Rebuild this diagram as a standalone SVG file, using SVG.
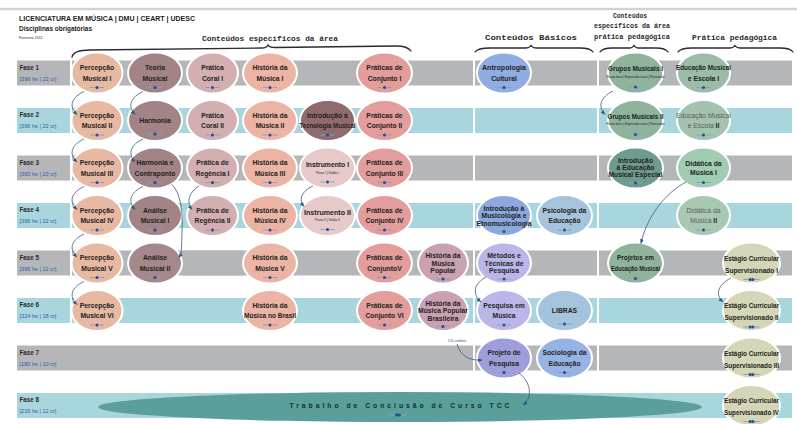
<svg xmlns="http://www.w3.org/2000/svg" xmlns:xlink="http://www.w3.org/1999/xlink" width="797" height="424" viewBox="0 0 797 424">
<defs>
<style>
.t{font-family:"Liberation Sans",Arial,sans-serif;font-size:6.8px;font-weight:bold;fill:#231f20;text-anchor:middle}
.tg{font-family:"Liberation Sans",Arial,sans-serif;font-size:6.8px;fill:#5b5b5b;text-anchor:middle}
.sub{font-family:"Liberation Sans",Arial,sans-serif;font-size:3.2px;fill:#231f20;text-anchor:middle}
.hd{font-family:"Liberation Mono","Courier New",monospace;font-size:8px;font-weight:bold;fill:#2a2a2a;text-anchor:middle}
.fs{font-family:"Liberation Sans",Arial,sans-serif;font-size:6.3px;font-weight:bold;fill:#2b2b2b}
.hs{font-family:"Liberation Sans",Arial,sans-serif;font-size:5.6px;fill:#2f5da8}
.G{fill:#b4b6b8}
.C{fill:#a9d6dd}
ellipse{stroke:#fff;stroke-width:2}
.pe{fill:#e8b9a2}.te{fill:#a28487}.co{fill:#d4afb2}.hi{fill:#ebb4a4}.tm{fill:#8f6b6f}
.in{fill:#e7c9ca}.pc{fill:#e39d9b}.hp{fill:#c9a1b3}.bl{fill:#8fade2}.lb{fill:#a5c3dd}
.lv{fill:#bbb6e9}.pp{fill:#9f9dda}.gr{fill:#8fb39c}.ge{fill:#6e9b8f}.em{fill:#9bbca8}
.di{fill:#a0cdb2}.es{fill:#d4d6b7}.tcc{fill:#5b9f9b;stroke:none}
.brace{fill:none;stroke:#2b2b2b;stroke-width:1.3;stroke-linecap:round}
.cn{fill:none;stroke:#3e5a78;stroke-width:0.8}
</style>
<marker id="ah" viewBox="0 0 10 10" refX="9" refY="5" markerWidth="6" markerHeight="6" orient="auto">
<path d="M0,1 L10,5 L0,9 z" fill="#2c5a8c"/>
</marker>
<g id="cr">
<rect x="-7" y="-0.5" width="4.5" height="1" fill="#8e9dba"/>
<circle cx="0" cy="0" r="1.6" fill="#1f4f99"/>
<rect x="2.5" y="-0.5" width="4.5" height="1" fill="#8e9dba"/>
</g>
<g id="cr2">
<rect x="-8" y="-0.5" width="4.5" height="1" fill="#8e9dba"/>
<circle cx="-1.4" cy="0" r="1.6" fill="#1f4f99"/>
<circle cx="1.4" cy="0" r="1.6" fill="#1f4f99"/>
<rect x="3.5" y="-0.5" width="4.5" height="1" fill="#8e9dba"/>
</g>
</defs>

<rect width="797" height="424" fill="#fff"/>
<line x1="0" y1="9" x2="797" y2="9" stroke="#d2d2d2" stroke-width="2.5"/>

<!-- title block -->
<text x="19" y="21" font-family="Liberation Sans,Arial,sans-serif" font-size="8" font-weight="bold" fill="#231f20" textLength="176" lengthAdjust="spacingAndGlyphs">LICENCIATURA EM MÚSICA | DMU | CEART | UDESC</text>
<text x="19" y="31" font-family="Liberation Sans,Arial,sans-serif" font-size="7" font-weight="bold" fill="#231f20" textLength="73" lengthAdjust="spacingAndGlyphs">Disciplinas obrigatórias</text>
<text x="19" y="38.5" font-family="Liberation Sans,Arial,sans-serif" font-size="3.5" fill="#231f20">Fevereiro 2012</text>

<!-- area headings and braces -->
<g id="headings">
<text class="hd" x="270" y="41" textLength="136" lengthAdjust="spacingAndGlyphs">Conteúdos específicos da área</text>
<text class="hd" x="531" y="40" textLength="92" lengthAdjust="spacingAndGlyphs">Conteúdos Básicos</text>
<text class="hd" x="630" y="18" textLength="34" lengthAdjust="spacingAndGlyphs">Conteúdos</text>
<text class="hd" x="632" y="28" textLength="76" lengthAdjust="spacingAndGlyphs">específicos da área</text>
<text class="hd" x="632" y="38.5" textLength="76" lengthAdjust="spacingAndGlyphs">prática pedagógica</text>
<text class="hd" x="734.5" y="40" textLength="85" lengthAdjust="spacingAndGlyphs">Prática pedagógica</text>
<path class="brace" d="M72,57 C73,52 78,50 90,50 L262,48 C266,48 267,47 268,45 C269,47 271,47.5 275,47.5 L396,46 C404,46 409,48 411,51"/>
<path class="brace" d="M475,52 C477,49 481,48 490,48 L526,48 C529,48 530,47 531,45.5 C532,47 533,48 536,48 L580,48 C587,48 591,49 593,52"/>
<path class="brace" d="M600,52 C602,49 605,48 612,48 L630,48 C632,48 633,47 634,45.5 C635,47 636,48 638,48 L656,48 C663,48 666,49 668,52"/>
<path class="brace" d="M678,52 C680,49 684,48 692,48 L730,48 C733,48 734,47 735,45.5 C736,47 737,48 740,48 L780,48 C787,48 791,49 793,52"/>
</g>

<!-- phase rows -->
<g id="fase-1">
<rect class="G" x="17" y="60.5" width="53" height="25"/>
<rect class="G" x="72" y="60.5" width="401" height="25"/>
<rect class="G" x="475" y="60.5" width="122" height="25"/>
<rect class="G" x="599" y="60.5" width="193" height="25"/>
<text class="fs" x="19.5" y="69.5">Fase 1</text>
<text class="hs" x="19.5" y="80.5">[396 hs | 22 cr]</text>
</g>
<g id="fase-2">
<rect class="C" x="17" y="108" width="53" height="25"/>
<rect class="C" x="72" y="108" width="401" height="25"/>
<rect class="C" x="475" y="108" width="122" height="25"/>
<rect class="C" x="599" y="108" width="193" height="25"/>
<text class="fs" x="19.5" y="117">Fase 2</text>
<text class="hs" x="19.5" y="128">[396 hs | 22 cr]</text>
</g>
<g id="fase-3">
<rect class="G" x="17" y="155.5" width="53" height="25"/>
<rect class="G" x="72" y="155.5" width="401" height="25"/>
<rect class="G" x="475" y="155.5" width="122" height="25"/>
<rect class="G" x="599" y="155.5" width="193" height="25"/>
<text class="fs" x="19.5" y="164.5">Fase 3</text>
<text class="hs" x="19.5" y="175.5">[360 hs | 20 cr]</text>
</g>
<g id="fase-4">
<rect class="C" x="17" y="203" width="53" height="25"/>
<rect class="C" x="72" y="203" width="401" height="25"/>
<rect class="C" x="475" y="203" width="122" height="25"/>
<rect class="C" x="599" y="203" width="193" height="25"/>
<text class="fs" x="19.5" y="212">Fase 4</text>
<text class="hs" x="19.5" y="223">[396 hs | 22 cr]</text>
</g>
<g id="fase-5">
<rect class="G" x="17" y="250.5" width="53" height="25"/>
<rect class="G" x="72" y="250.5" width="401" height="25"/>
<rect class="G" x="475" y="250.5" width="122" height="25"/>
<rect class="G" x="599" y="250.5" width="193" height="25"/>
<text class="fs" x="19.5" y="259.5">Fase 5</text>
<text class="hs" x="19.5" y="270.5">[396 hs | 22 cr]</text>
</g>
<g id="fase-6">
<rect class="C" x="17" y="298" width="53" height="25"/>
<rect class="C" x="72" y="298" width="401" height="25"/>
<rect class="C" x="475" y="298" width="122" height="25"/>
<rect class="C" x="599" y="298" width="193" height="25"/>
<text class="fs" x="19.5" y="307">Fase 6</text>
<text class="hs" x="19.5" y="318">[324 hs | 18 cr]</text>
</g>
<g id="fase-7">
<rect class="G" x="17" y="345.5" width="456" height="25"/>
<rect class="G" x="475" y="345.5" width="122" height="25"/>
<rect class="G" x="599" y="345.5" width="193" height="25"/>
<text class="fs" x="19.5" y="354.5">Fase 7</text>
<text class="hs" x="19.5" y="365.5">[180 hs | 10 cr]</text>
</g>
<g id="fase-8">
<rect class="C" x="17" y="393" width="775" height="25"/>
<text class="fs" x="19.5" y="402">Fase 8</text>
<text class="hs" x="19.5" y="413">[216 hs | 12 cr]</text>
</g>

<!-- Fase 1 -->
<g id="percepcao-1"><ellipse class="pe" cx="97" cy="73" rx="25.5" ry="20.5"/><text class="t" x="97" y="70">Percepção</text><text class="t" x="97" y="80.5">Musical I</text><use href="#cr" x="97" y="87.5"/></g>
<g id="teoria"><ellipse class="te" cx="155" cy="73" rx="27" ry="20.5"/><text class="t" x="155" y="70">Teoria</text><text class="t" x="155" y="80.5">Musical</text><use href="#cr" x="155" y="87.5"/></g>
<g id="coral-1"><ellipse class="co" cx="212.5" cy="73" rx="25.5" ry="20.5"/><text class="t" x="212.5" y="70">Prática</text><text class="t" x="212.5" y="80.5">Coral I</text><use href="#cr" x="212.5" y="87.5"/></g>
<g id="historia-1"><ellipse class="hi" cx="270" cy="73" rx="27" ry="20.5"/><text class="t" x="270" y="70">História da</text><text class="t" x="270" y="80.5">Música I</text><use href="#cr" x="270" y="87.5"/></g>
<g id="conjunto-1"><ellipse class="pc" cx="384.5" cy="73" rx="27.5" ry="20.5"/><text class="t" x="384.5" y="70">Práticas de</text><text class="t" x="384.5" y="80.5">Conjunto I</text><use href="#cr" x="384.5" y="87.5"/></g>
<g id="antropologia"><ellipse class="bl" cx="504" cy="73" rx="27" ry="20.5"/><text class="t" x="504" y="70" textLength="44" lengthAdjust="spacingAndGlyphs">Antropologia</text><text class="t" x="504" y="80.5">Cultural</text><use href="#cr" x="504" y="87.5"/></g>
<g id="grupos-1"><ellipse class="gr" cx="635.5" cy="73" rx="27.5" ry="20.5"/><text class="t" x="635.5" y="71" textLength="55" lengthAdjust="spacingAndGlyphs">Grupos Musicais I</text><text class="sub" x="635.5" y="77.5" textLength="58" lengthAdjust="spacingAndGlyphs">Flauta doce | Expressão vocal | Percussão</text><use href="#cr" x="635.5" y="87"/></g>
<g id="escola-1"><ellipse class="em" cx="703.5" cy="73" rx="26.5" ry="20.5"/><text class="t" x="703.5" y="70" textLength="55" lengthAdjust="spacingAndGlyphs">Educação Musical</text><text class="t" x="703.5" y="80.5">e Escola I</text><use href="#cr" x="703.5" y="87.5"/></g>

<!-- Fase 2 -->
<g id="percepcao-2"><ellipse class="pe" cx="97" cy="120.5" rx="25.5" ry="20.5"/><text class="t" x="97" y="117.5">Percepção</text><text class="t" x="97" y="128">Musical II</text><use href="#cr" x="97" y="135"/></g>
<g id="harmonia"><ellipse class="te" cx="155" cy="120.5" rx="27" ry="20.5"/><text class="t" x="155" y="123">Harmonia</text><use href="#cr" x="155" y="134"/></g>
<g id="coral-2"><ellipse class="co" cx="212.5" cy="120.5" rx="25.5" ry="20.5"/><text class="t" x="212.5" y="117.5">Prática</text><text class="t" x="212.5" y="128">Coral II</text><use href="#cr" x="212.5" y="135"/></g>
<g id="historia-2"><ellipse class="hi" cx="270" cy="120.5" rx="27" ry="20.5"/><text class="t" x="270" y="117.5">História da</text><text class="t" x="270" y="128">Música II</text><use href="#cr" x="270" y="135"/></g>
<g id="tecnologia"><ellipse class="tm" cx="327.5" cy="120.5" rx="27.5" ry="20.5"/><text class="t" x="327.5" y="117.5">Introdução à</text><text class="t" x="327.5" y="128" textLength="56" lengthAdjust="spacingAndGlyphs">Tecnologia Musical</text><use href="#cr" x="327.5" y="135"/></g>
<g id="conjunto-2"><ellipse class="pc" cx="384.5" cy="120.5" rx="27.5" ry="20.5"/><text class="t" x="384.5" y="117.5">Práticas de</text><text class="t" x="384.5" y="128">Conjunto II</text><use href="#cr" x="384.5" y="135"/></g>
<g id="grupos-2"><ellipse class="gr" cx="635.5" cy="120.5" rx="27.5" ry="20.5"/><text class="t" x="635.5" y="118.5" textLength="56" lengthAdjust="spacingAndGlyphs">Grupos Musicais II</text><text class="sub" x="635.5" y="125" textLength="58" lengthAdjust="spacingAndGlyphs">Flauta doce | Expressão vocal | Percussão</text><use href="#cr" x="635.5" y="134.5"/></g>
<g id="escola-2"><ellipse class="em" cx="703.5" cy="120.5" rx="26.5" ry="20.5" style="fill:#a4c2b0"/><text class="tg" x="703.5" y="117.5" textLength="55" lengthAdjust="spacingAndGlyphs">Educação Musical</text><text class="tg" x="703.5" y="128">e Escola <tspan font-weight="bold" fill="#231f20">II</tspan></text><use href="#cr" x="703.5" y="135"/></g>

<!-- Fase 3 -->
<g id="percepcao-3"><ellipse class="pe" cx="97" cy="168" rx="25.5" ry="20.5"/><text class="t" x="97" y="165">Percepção</text><text class="t" x="97" y="175.5">Musical III</text><use href="#cr" x="97" y="182.5"/></g>
<g id="contraponto"><ellipse class="te" cx="155" cy="168" rx="27" ry="20.5"/><text class="t" x="155" y="165">Harmonia e</text><text class="t" x="155" y="175.5">Contraponto</text><use href="#cr" x="155" y="182.5"/></g>
<g id="regencia-1"><ellipse class="co" cx="212.5" cy="168" rx="25.5" ry="20.5"/><text class="t" x="212.5" y="165">Prática de</text><text class="t" x="212.5" y="175.5">Regência I</text><use href="#cr" x="212.5" y="182.5"/></g>
<g id="historia-3"><ellipse class="hi" cx="270" cy="168" rx="27" ry="20.5"/><text class="t" x="270" y="165">História da</text><text class="t" x="270" y="175.5">Música III</text><use href="#cr" x="270" y="182.5"/></g>
<g id="instrumento-1"><ellipse class="in" cx="327.5" cy="168" rx="27.5" ry="20.5"/><text class="t" x="327.5" y="167">Instrumento I</text><text class="sub" x="327.5" y="173.5">Piano I | Violão I</text><use href="#cr" x="327.5" y="182"/></g>
<g id="conjunto-3"><ellipse class="pc" cx="384.5" cy="168" rx="27.5" ry="20.5"/><text class="t" x="384.5" y="165">Práticas de</text><text class="t" x="384.5" y="175.5">Conjunto III</text><use href="#cr" x="384.5" y="182.5"/></g>
<g id="especial"><ellipse class="ge" cx="635.5" cy="168" rx="27.5" ry="20.5"/><text class="t" x="635.5" y="163">Introdução</text><text class="t" x="635.5" y="170">à Educação</text><text class="t" x="635.5" y="177" textLength="54" lengthAdjust="spacingAndGlyphs">Musical Especial</text><use href="#cr" x="635.5" y="183"/></g>
<g id="didatica-1"><ellipse class="di" cx="703.5" cy="168" rx="26.5" ry="20.5"/><text class="t" x="703.5" y="165.5">Didática da</text><text class="t" x="703.5" y="175">Música I</text><use href="#cr" x="703.5" y="182.5"/></g>

<!-- Fase 4 -->
<g id="percepcao-4"><ellipse class="pe" cx="97" cy="215.5" rx="25.5" ry="20.5"/><text class="t" x="97" y="212.5">Percepção</text><text class="t" x="97" y="223">Musical IV</text><use href="#cr" x="97" y="230"/></g>
<g id="analise-1"><ellipse class="te" cx="155" cy="215.5" rx="27" ry="20.5"/><text class="t" x="155" y="212.5">Análise</text><text class="t" x="155" y="223">Musical I</text><use href="#cr" x="155" y="230"/></g>
<g id="regencia-2"><ellipse class="co" cx="212.5" cy="215.5" rx="25.5" ry="20.5"/><text class="t" x="212.5" y="212.5">Prática de</text><text class="t" x="212.5" y="223">Regência II</text><use href="#cr" x="212.5" y="230"/></g>
<g id="historia-4"><ellipse class="hi" cx="270" cy="215.5" rx="27" ry="20.5"/><text class="t" x="270" y="212.5">História da</text><text class="t" x="270" y="223">Música IV</text><use href="#cr" x="270" y="230"/></g>
<g id="instrumento-2"><ellipse class="in" cx="327.5" cy="215.5" rx="27.5" ry="20.5"/><text class="t" x="327.5" y="214.5" textLength="47" lengthAdjust="spacingAndGlyphs">Instrumento II</text><text class="sub" x="327.5" y="221">Piano II | Violão II</text><use href="#cr" x="327.5" y="229.5"/></g>
<g id="conjunto-4"><ellipse class="pc" cx="384.5" cy="215.5" rx="27.5" ry="20.5"/><text class="t" x="384.5" y="212.5">Práticas de</text><text class="t" x="384.5" y="223">Conjunto IV</text><use href="#cr" x="384.5" y="230"/></g>
<g id="musicologia"><ellipse class="bl" cx="504" cy="215.5" rx="27" ry="20.5" style="fill:#8ba8df"/><text class="t" x="504" y="210.5">Introdução à</text><text class="t" x="504" y="218">Musicologia e</text><text class="t" x="504" y="225.5" textLength="55" lengthAdjust="spacingAndGlyphs">Etnomusicologia</text><use href="#cr" x="504" y="231.5"/></g>
<g id="psicologia"><ellipse class="lb" cx="564.5" cy="215.5" rx="27.5" ry="20.5"/><text class="t" x="564.5" y="212.5">Psicologia da</text><text class="t" x="564.5" y="223">Educação</text><use href="#cr" x="564.5" y="230"/></g>
<g id="didatica-2"><ellipse class="di" cx="703.5" cy="215.5" rx="26.5" ry="20.5" style="fill:#a9c8b4"/><text class="tg" x="703.5" y="212.5">Didática da</text><text class="tg" x="703.5" y="223">Música <tspan font-weight="bold" fill="#231f20">II</tspan></text><use href="#cr" x="703.5" y="230"/></g>

<!-- Fase 5 -->
<g id="percepcao-5"><ellipse class="pe" cx="97" cy="263" rx="25.5" ry="20.5"/><text class="t" x="97" y="260">Percepção</text><text class="t" x="97" y="270.5">Musical V</text><use href="#cr" x="97" y="277.5"/></g>
<rect class="G" x="182" y="250.5" width="61" height="25"/>
<g id="analise-2"><ellipse class="te" cx="155" cy="263" rx="27" ry="20.5" style="fill:#a4888b"/><text class="t" x="155" y="260">Análise</text><text class="t" x="155" y="270.5">Musical II</text><use href="#cr" x="155" y="277.5"/></g>
<g id="historia-5"><ellipse class="hi" cx="270" cy="263" rx="27" ry="20.5"/><text class="t" x="270" y="260">História da</text><text class="t" x="270" y="270.5">Música V</text><use href="#cr" x="270" y="277.5"/></g>
<g id="conjunto-5"><ellipse class="pc" cx="384.5" cy="263" rx="27.5" ry="20.5"/><text class="t" x="384.5" y="260">Práticas de</text><text class="t" x="384.5" y="270.5">ConjuntoV</text><use href="#cr" x="384.5" y="277.5"/></g>
<g id="popular"><ellipse class="hp" cx="443" cy="263" rx="25" ry="20.5"/><text class="t" x="443" y="258">História da</text><text class="t" x="443" y="265.5">Música</text><text class="t" x="443" y="273">Popular</text><use href="#cr" x="443" y="279"/></g>
<g id="metodos"><ellipse class="lv" cx="504" cy="263" rx="27" ry="20.5"/><text class="t" x="504" y="258">Métodos e</text><text class="t" x="504" y="265.5">Técnicas de</text><text class="t" x="504" y="273">Pesquisa</text><use href="#cr" x="504" y="279"/></g>
<g id="projetos"><ellipse class="gr" cx="635.5" cy="263" rx="27.5" ry="20.5"/><text class="t" x="635.5" y="260" font-size="6.3" textLength="37" lengthAdjust="spacingAndGlyphs">Projetos em</text><text class="t" x="635.5" y="271" font-size="6.3" textLength="49" lengthAdjust="spacingAndGlyphs">Educação Musical</text><use href="#cr" x="635.5" y="278.5"/></g>
<g id="estagio-1"><ellipse class="es" cx="751.5" cy="263" rx="28.5" ry="20.5"/><text class="t" x="751.5" y="260.5" textLength="55" lengthAdjust="spacingAndGlyphs">Estágio Curricular</text><text class="t" x="751.5" y="272.5" textLength="53" lengthAdjust="spacingAndGlyphs">Supervisionado I</text><use href="#cr2" x="751.5" y="279.5"/></g>

<!-- Fase 6 -->
<g id="percepcao-6"><ellipse class="pe" cx="97" cy="310.5" rx="25.5" ry="20.5"/><text class="t" x="97" y="307.5">Percepção</text><text class="t" x="97" y="318">Musical VI</text><use href="#cr" x="97" y="325"/></g>
<g id="historia-brasil"><ellipse class="hi" cx="270" cy="310.5" rx="27" ry="20.5"/><text class="t" x="270" y="307.5">História da</text><text class="t" x="270" y="318" textLength="52" lengthAdjust="spacingAndGlyphs">Música no Brasil</text><use href="#cr" x="270" y="325"/></g>
<g id="conjunto-6"><ellipse class="pc" cx="384.5" cy="310.5" rx="27.5" ry="20.5"/><text class="t" x="384.5" y="307.5">Práticas de</text><text class="t" x="384.5" y="318">Conjunto VI</text><use href="#cr" x="384.5" y="325"/></g>
<g id="popular-brasileira"><ellipse class="hp" cx="443" cy="310.5" rx="25" ry="20.5"/><text class="t" x="443" y="305.5">História da</text><text class="t" x="443" y="313" textLength="50" lengthAdjust="spacingAndGlyphs">Música Popular</text><text class="t" x="443" y="320.5">Brasileira</text><use href="#cr" x="443" y="326.5"/></g>
<g id="pesquisa-musica"><ellipse class="lv" cx="504" cy="310.5" rx="27" ry="20.5"/><text class="t" x="504" y="307.5">Pesquisa em</text><text class="t" x="504" y="318">Música</text><use href="#cr" x="504" y="325"/></g>
<g id="libras"><ellipse class="lb" cx="564.5" cy="310.5" rx="27.5" ry="20.5"/><text class="t" x="564.5" y="313">LIBRAS</text><use href="#cr" x="564.5" y="324"/></g>
<g id="estagio-2"><ellipse class="es" cx="751.5" cy="310.5" rx="28.5" ry="20.5"/><text class="t" x="751.5" y="308" textLength="55" lengthAdjust="spacingAndGlyphs">Estágio Curricular</text><text class="t" x="751.5" y="320" textLength="54" lengthAdjust="spacingAndGlyphs">Supervisionado II</text><use href="#cr2" x="751.5" y="327"/></g>

<!-- Fase 7 -->
<g id="projeto-pesquisa"><ellipse class="pp" cx="504" cy="358" rx="27" ry="20.5"/><text class="t" x="504" y="355">Projeto de</text><text class="t" x="504" y="365.5">Pesquisa</text><use href="#cr" x="504" y="372.5"/></g>
<g id="sociologia"><ellipse class="bl" cx="564.5" cy="358" rx="27.5" ry="20.5" style="fill:#97b3e5"/><text class="t" x="564.5" y="355">Sociologia da</text><text class="t" x="564.5" y="365.5">Educação</text><use href="#cr" x="564.5" y="372.5"/></g>
<g id="estagio-3"><ellipse class="es" cx="751.5" cy="358" rx="28.5" ry="20.5"/><text class="t" x="751.5" y="355.5" textLength="55" lengthAdjust="spacingAndGlyphs">Estágio Curricular</text><text class="t" x="751.5" y="367.5" textLength="55" lengthAdjust="spacingAndGlyphs">Supervisionado III</text><use href="#cr2" x="751.5" y="374.5"/></g>
<text x="457" y="342" font-family="Liberation Sans,Arial,sans-serif" font-size="3.4" fill="#3e5a78" text-anchor="middle">120 créditos</text>

<!-- Fase 8 -->
<g id="tcc"><ellipse class="tcc" cx="400" cy="407" rx="302" ry="15"/><text x="399.5" y="407.5" font-family="Liberation Sans,Arial,sans-serif" font-size="6.8" font-weight="bold" fill="#10302f" text-anchor="middle" textLength="220" lengthAdjust="spacing">Trabalho de Conclusão de Curso TCC</text><use href="#cr2" x="398" y="415"/></g>
<g id="estagio-4"><ellipse class="es" cx="751.5" cy="405.5" rx="28.5" ry="20.5"/><text class="t" x="751.5" y="403" textLength="55" lengthAdjust="spacingAndGlyphs">Estágio Curricular</text><text class="t" x="751.5" y="415" textLength="55" lengthAdjust="spacingAndGlyphs">Supervisionado IV</text><use href="#cr2" x="751.5" y="421.5"/></g>

<!-- prerequisite connectors -->
<g id="connectors">
<path class="cn" marker-end="url(#ah)" d="M84,91.5 C72,97 68,106 77,114.5"/>
<path class="cn" marker-end="url(#ah)" d="M84,139 C72,144.5 68,153.5 77,162"/>
<path class="cn" marker-end="url(#ah)" d="M84,186.5 C72,192 68,201 77,209.5"/>
<path class="cn" marker-end="url(#ah)" d="M84,234 C72,239.5 68,248.5 77,257"/>
<path class="cn" marker-end="url(#ah)" d="M84,281.5 C72,287 68,296 77,304.5"/>
<path class="cn" marker-end="url(#ah)" d="M143,91.5 C131,97 127,106 135,114.5"/>
<path class="cn" marker-end="url(#ah)" d="M143,139 C131,144.5 127,153.5 135,162"/>
<path class="cn" marker-end="url(#ah)" d="M143,186.5 C131,192 127,201 135,209.5"/>
<path class="cn" marker-end="url(#ah)" d="M172,184.5 C181,194 183,212 182,232 C181.5,246 182,253 179,257.5"/>
<path class="cn" marker-end="url(#ah)" d="M199,186 C189,192 186,202 192,209.5"/>
<path class="cn" marker-end="url(#ah)" d="M313,186 C302,191 298,199 304,206.5"/>
<path class="cn" marker-end="url(#ah)" d="M613,91 C601,97 597,106 605,114.5"/>
<path class="cn" marker-end="url(#ah)" d="M686,182 C667,192 647,215 641,243.5"/>
<path class="cn" marker-end="url(#ah)" d="M486,277 C475,283 471,293 481,302"/>
<path class="cn" marker-end="url(#ah)" d="M731,278 C719,284 714,294 723,302"/>
<path class="cn" marker-end="url(#ah)" d="M457,344 C460,354 467,361 482,360"/>
<path class="cn" marker-end="url(#ah)" d="M519,373 C531,382 533,398 523,405"/>
</g>
</svg>
